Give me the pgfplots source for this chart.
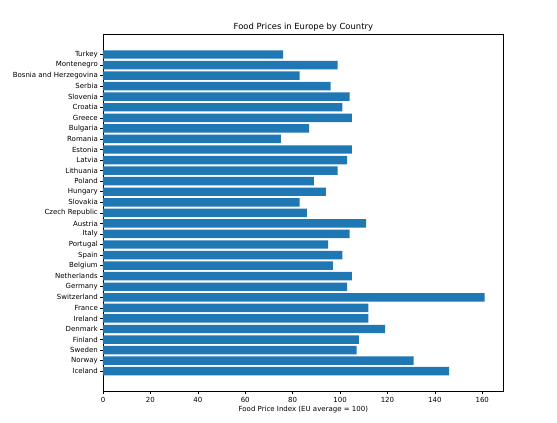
\documentclass[border=0pt]{standalone}
\usepackage{pgfplots}
\pgfplotsset{compat=1.18}
\usepackage{fontspec}
\setmainfont{DejaVu Sans}
\definecolor{tabblue}{HTML}{1F77B4}
\begin{document}
\fontsize{7pt}{8.4pt}\selectfont
\begin{tikzpicture}
\useasboundingbox (0,0) rectangle (557pt,423pt);
\begin{axis}[
  at={(103pt,31.3pt)}, anchor=south west,
  scale only axis,
  width=400.7pt, height=357.7pt,
  xbar, bar width=0.8,
  xmin=0, xmax=169.05,
  ymin=-1.94, ymax=31.94,
  xtick={0,20,40,60,80,100,120,140,160},
  ytick={0,...,30},
  yticklabels={Iceland,Norway,Sweden,Finland,Denmark,Ireland,France,Switzerland,Germany,Netherlands,Belgium,Spain,Portugal,Italy,Austria,Czech Republic,Slovakia,Hungary,Poland,Lithuania,Latvia,Estonia,Romania,Bulgaria,Greece,Croatia,Slovenia,Serbia,Bosnia and Herzegovina,Montenegro,Turkey},
  tick align=outside,
  major tick length=2.5pt,
  tick style={black, line width=0.56pt},
  axis line style={black, line width=0.56pt},
  xtick pos=bottom, ytick pos=left,
  /pgf/number format/assume math mode=true,
  ticklabel style={font=\fontsize{7pt}{8.4pt}\selectfont, inner sep=0pt},
  yticklabel style={xshift=-2.5pt},
  xticklabel style={yshift=-2.5pt},
  title={Food Prices in Europe by Country},
  every axis title/.style={font=\fontsize{8.4pt}{10pt}\selectfont, at={(axis description cs:0.5,1)}, anchor=south, inner sep=0pt, yshift=2.3pt},
  xlabel={Food Price Index (EU average = 100)},
  every axis x label/.style={font=\fontsize{7pt}{8.4pt}\selectfont, at={(axis description cs:0.5,0)}, anchor=north, inner sep=0pt, yshift=-14.2pt},
]
\addplot[fill=tabblue, draw=none] coordinates {
(146,0) (131,1) (107,2) (108,3) (119,4) (112,5) (112,6) (161,7) (103,8) (105,9)
(97,10) (101,11) (95,12) (104,13) (111,14) (86,15) (83,16) (94,17) (89,18) (99,19)
(103,20) (105,21) (75,22) (87,23) (105,24) (101,25) (104,26) (96,27) (83,28) (99,29) (76,30)
};
\end{axis}
\end{tikzpicture}
\end{document}
